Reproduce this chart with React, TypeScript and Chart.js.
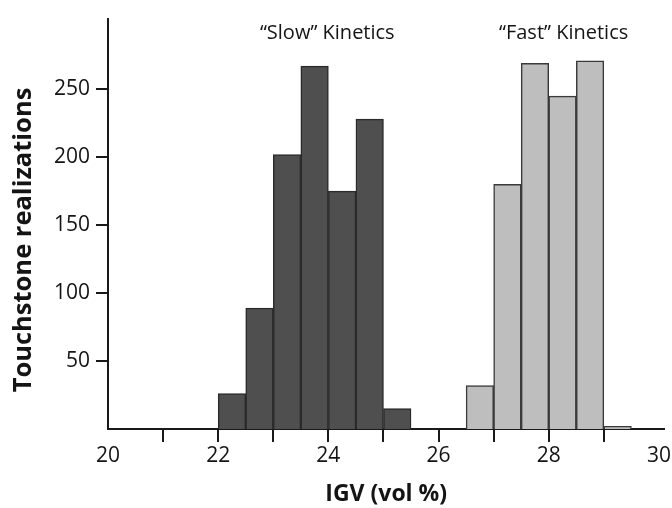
import React, { useEffect, useRef } from "react";
import { Chart, registerables } from "chart.js";

Chart.register(...registerables);

// Bin centres (IGV, vol %) — bins are 0.5 wide
const slowBins = [22.25, 22.75, 23.25, 23.75, 24.25, 24.75, 25.25];
const slowCounts = [26, 89, 202, 267, 175, 228, 15];
const fastBins = [26.75, 27.25, 27.75, 28.25, 28.75, 29.25];
const fastCounts = [32, 180, 269, 245, 271, 2];

const xTickValues = [20, 21, 22, 23, 24, 25, 26, 27, 28, 29, 30];
const yTickValues = [50, 100, 150, 200, 250];

const groupLabels = [
  { text: "\u201CSlow\u201D Kinetics", x: 23.98 },
  { text: "\u201CFast\u201D Kinetics", x: 28.27 },
];
const yTitle = "Touchstone realizations";
const xTitle = "IGV (vol %)";

const FONT = "'Open Sans', 'Noto Sans', sans-serif";

export default function App() {
  const ref = useRef<HTMLCanvasElement | null>(null);

  useEffect(() => {
    if (!ref.current) return;
    const labelPlugin = {
      id: "groupLabels",
      afterDatasetsDraw(chart: any) {
        const ctx = chart.ctx;
        const xs = chart.scales.x;
        ctx.save();
        ctx.font = `20px ${FONT}`;
        ctx.fillStyle = "#141414";
        ctx.textAlign = "center";
        ctx.textBaseline = "middle";
        groupLabels.forEach((g) => {
          ctx.fillText(g.text, xs.getPixelForValue(g.x), 33);
        });
        // y axis title
        ctx.translate(24, 240);
        ctx.rotate(-Math.PI / 2);
        ctx.font = `bold 25.5px ${FONT}`;
        ctx.fillText(yTitle, 0, 0);
        ctx.restore();
      },
    };

    const chart = new Chart(ref.current, {
      type: "bar",
      data: {
        datasets: [
          {
            label: "Slow",
            data: slowBins.map((x, i) => ({ x, y: slowCounts[i] })),
            backgroundColor: "#4f4f4f",
            borderColor: "#2b2b2b",
            borderWidth: 1.5,
            barPercentage: 1,
            categoryPercentage: 1,
            grouped: false,
          },
          {
            label: "Fast",
            data: fastBins.map((x, i) => ({ x, y: fastCounts[i] })),
            backgroundColor: "#bebebe",
            borderColor: "#3a3a3a",
            borderWidth: 1.5,
            barPercentage: 1,
            categoryPercentage: 1,
            grouped: false,
          },
        ],
      },
      options: {
        animation: false,
        responsive: true,
        maintainAspectRatio: false,
        layout: { padding: { left: 0, top: 13, right: 7, bottom: 0 } },
        plugins: {
          legend: { display: false },
          tooltip: { enabled: false },
        },
        scales: {
          x: {
            type: "linear",
            min: 20,
            max: 30.1,
            offset: false,
            afterBuildTicks: (s: any) => {
              s.ticks = xTickValues.map((v) => ({ value: v }));
            },
            afterFit: (s: any) => {
              s.height = 79;
            },
            grid: {
              offset: false,
              drawOnChartArea: false,
              tickLength: 13,
              lineWidth: 2,
              color: (c: any) =>
                c.tick && (c.tick.value === 20 || c.tick.value === 30)
                  ? "rgba(0,0,0,0)"
                  : "#1a1a1a",
            },
            border: { display: true, color: "#1a1a1a", width: 2 },
            ticks: {
              padding: 1,
              color: "#141414",
              font: { family: FONT, size: 21 },
              maxRotation: 0,
              autoSkip: false,
              callback: (v: any) => (Number(v) % 2 === 0 ? String(v) : ""),
            },
            title: {
              display: true,
              text: xTitle,
              color: "#141414",
              padding: { top: 0, bottom: 0 },
              font: { family: FONT, size: 23, weight: "bold" },
            },
          },
          y: {
            type: "linear",
            min: 0,
            max: 302,
            afterBuildTicks: (s: any) => {
              s.ticks = yTickValues.map((v) => ({ value: v }));
            },
            afterFit: (s: any) => {
              s.width = 108;
            },
            grid: {
              drawOnChartArea: false,
              tickLength: 12,
              lineWidth: 2,
              color: "#1a1a1a",
            },
            border: { display: true, color: "#1a1a1a", width: 2 },
            ticks: {
              padding: 6,
              color: "#141414",
              font: { family: FONT, size: 21 },
            },
            title: { display: false },
          },
        },
      },
      plugins: [labelPlugin],
    } as any);
    return () => chart.destroy();
  }, []);

  return (
    <div
      style={{
        position: "fixed",
        left: 0,
        top: 0,
        width: 672,
        height: 508,
        background: "#fff",
      }}
    >
      <canvas ref={ref} />
    </div>
  );
}
